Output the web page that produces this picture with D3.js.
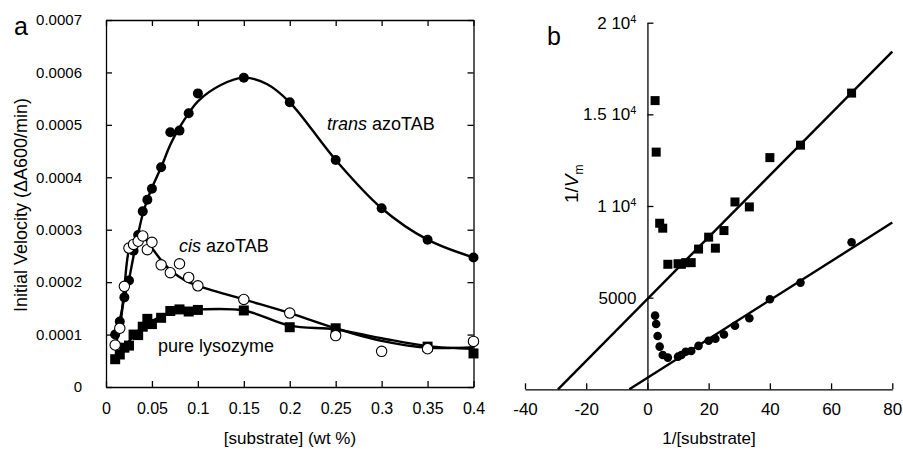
<!DOCTYPE html>
<html><head><meta charset="utf-8">
<script src="https://cdn.jsdelivr.net/npm/d3@7"></script>
<style>
html,body{margin:0;padding:0;background:#fff;}
svg{display:block;font-family:"Liberation Sans",Arial,Helvetica,sans-serif;}
.axis path,.axis line{stroke:#000;stroke-width:1.3;}
.axis text{fill:#000;font-family:"Liberation Sans",Arial,sans-serif;}
</style></head>
<body>
<svg id="chart" width="903" height="452"></svg>
<script>
// ---------- Panel a data: initial velocity vs [substrate] (wt %) ----------
const substrate = [0.01,0.015,0.02,0.025,0.03,0.035,0.04,0.045,0.05,0.06,0.07,0.08,0.09,0.1,0.15,0.2,0.25,0.3,0.35,0.4];
const transVelocity = [1.0,1.25,1.71,2.03,2.6,2.9,3.35,3.57,3.78,4.19,4.86,4.89,5.22,5.6,5.9,5.43,4.33,3.41,2.81,2.47].map(v=>v*1e-4);
const cisVelocity = [0.8,1.12,1.92,2.65,2.72,2.78,2.88,2.62,2.76,2.33,2.18,2.35,2.09,1.93,1.67,1.41,0.98,0.68,0.73,0.87].map(v=>v*1e-4);
const lysoSubstrate = [0.01,0.015,0.02,0.025,0.03,0.035,0.04,0.045,0.05,0.06,0.07,0.08,0.09,0.1,0.15,0.2,0.25,0.35,0.4];
const lysoVelocity = [0.53,0.62,0.75,0.79,1.0,0.99,1.15,1.3,1.2,1.32,1.45,1.48,1.44,1.47,1.46,1.14,1.12,0.77,0.64].map(v=>v*1e-4);

// smoothed guide curves drawn through each series
const transCurveX = [0.01,0.015,0.02,0.025,0.03,0.035,0.04,0.045,0.05,0.06,0.07,0.08,0.09,0.1,0.125,0.15,0.175,0.2,0.25,0.3,0.35,0.4];
const transCurveV = [1.0,1.28,1.7,2.05,2.5,2.92,3.3,3.57,3.8,4.19,4.62,4.95,5.22,5.45,5.76,5.9,5.78,5.43,4.33,3.41,2.81,2.47].map(v=>v*1e-4);
const cisCurveX = [0.01,0.015,0.02,0.025,0.03,0.035,0.04,0.05,0.06,0.07,0.08,0.09,0.1,0.15,0.2,0.25,0.3,0.35,0.4];
const cisCurveV = [0.8,1.12,1.9,2.6,2.75,2.8,2.86,2.65,2.42,2.23,2.1,2.0,1.93,1.67,1.41,1.12,0.88,0.75,0.76].map(v=>v*1e-4);
const lysoCurveX = [0.01,0.015,0.02,0.03,0.04,0.05,0.06,0.07,0.08,0.1,0.15,0.2,0.25,0.3,0.35,0.4];
const lysoCurveV = [0.53,0.62,0.75,0.98,1.15,1.26,1.35,1.43,1.46,1.48,1.46,1.17,1.1,0.93,0.78,0.73].map(v=>v*1e-4);

const xTicksA = [0,0.05,0.1,0.15,0.2,0.25,0.3,0.35,0.4];
const yTicksA = [0,0.0001,0.0002,0.0003,0.0004,0.0005,0.0006,0.0007];

// ---------- Panel b data: double reciprocal (1/V vs 1/[substrate]) ----------
const invSubLyso = [2.5,2.86,4,5,6.67,10,11.1,12.5,14.3,16.7,20,22.2,25,28.6,33.3,40,50,66.7];
const invVLyso = [15750,12940,9060,8790,6820,6850,6820,6910,6910,7650,8300,7700,8660,10220,9950,12640,13320,16160];
const invSubTrans = [2.5,2.86,3.33,4,5,6.67,10,11.1,12.5,14.3,16.7,20,22.2,25,28.6,33.3,40,50,66.7];
const invVTrans = [4020,3560,2910,2330,1870,1730,1780,1870,2050,2090,2370,2650,2760,2990,3470,3875,4910,5820,8020];
// linear fits (slope, intercept)
const fitLyso = {slope:168.7, intercept:4929};
const fitTrans = {slope:105.9, intercept:625};

const xTicksB = [-40,-20,0,20,40,60,80];
const yTicksB = [5000,10000,15000,20000];
const yTickLabelsB = [["5000",null],["1 10","4"],["1.5 10","4"],["2 10","4"]];

const svg = d3.select("#chart");

// ================= Panel a =================
const xA = d3.scaleLinear().domain([0,0.4]).range([106,473.5]);
const yA = d3.scaleLinear().domain([0,0.0007]).range([387,20]);

const gA = svg.append("g");
gA.append("g").attr("class","axis").attr("transform",`translate(0,${yA(0)})`)
  .call(d3.axisBottom(xA).tickValues(xTicksA).tickSizeInner(-6).tickSizeOuter(0).tickPadding(16).tickFormat(d=>String(d)))
  .selectAll("text").style("font-size","16px");
gA.append("g").attr("class","axis").attr("transform",`translate(0,${yA(0.0007)})`)
  .call(d3.axisTop(xA).tickValues(xTicksA).tickSizeInner(-6).tickSizeOuter(0).tickFormat(""));
gA.append("g").attr("class","axis").attr("transform",`translate(${xA(0)},0)`)
  .call(d3.axisLeft(yA).tickValues(yTicksA).tickSizeInner(-6).tickSizeOuter(0).tickPadding(24).tickFormat(d=>String(d)))
  .selectAll("text").style("font-size","15px");
gA.append("g").attr("class","axis").attr("transform",`translate(${xA(0.4)},0)`)
  .call(d3.axisRight(yA).tickValues(yTicksA).tickSizeInner(-6).tickSizeOuter(0).tickFormat(""));

const lineA = (xs,vs)=> d3.line().x((d,i)=>xA(xs[i])).y((d,i)=>yA(vs[i])).curve(d3.curveCatmullRom.alpha(0.5))(xs);
[[transCurveX,transCurveV],[cisCurveX,cisCurveV],[lysoCurveX,lysoCurveV]].forEach(([xs,vs])=>{
  gA.append("path").attr("d",lineA(xs,vs)).attr("fill","none").attr("stroke","#000").attr("stroke-width",2.4).attr("stroke-linejoin","round");
});

gA.append("g").selectAll("rect").data(lysoSubstrate).join("rect")
  .attr("x",(d)=>xA(d)-5).attr("y",(d,i)=>yA(lysoVelocity[i])-5).attr("width",10).attr("height",10).attr("fill","#000");
gA.append("g").selectAll("circle").data(substrate).join("circle")
  .attr("cx",d=>xA(d)).attr("cy",(d,i)=>yA(transVelocity[i])).attr("r",5).attr("fill","#000");
gA.append("g").selectAll("circle").data(substrate).join("circle")
  .attr("cx",d=>xA(d)).attr("cy",(d,i)=>yA(cisVelocity[i])).attr("r",5.2).attr("fill","#fff").attr("stroke","#000").attr("stroke-width",1.1);

// annotations
const t1 = gA.append("text").attr("x",327).attr("y",130).style("font-size","18px");
t1.append("tspan").style("font-style","italic").text("trans");
t1.append("tspan").text(" azoTAB");
const t2 = gA.append("text").attr("x",179).attr("y",252).style("font-size","18px");
t2.append("tspan").style("font-style","italic").text("cis");
t2.append("tspan").text(" azoTAB");
gA.append("text").attr("x",158).attr("y",352).style("font-size","18px").text("pure lysozyme");

gA.append("text").attr("x",14).attr("y",35).style("font-size","25px").text("a");
gA.append("text").attr("transform","translate(27,205) rotate(-90)").attr("text-anchor","middle").style("font-size","18px").text("Initial Velocity (\u0394A600/min)");
gA.append("text").attr("x",290).attr("y",444).attr("text-anchor","middle").style("font-size","17px").text("[substrate] (wt %)");

// ================= Panel b =================
const xB = d3.scaleLinear().domain([-40,80]).range([525,892.3]);
const yB = d3.scaleLinear().domain([0,20000]).range([389.3,22.7]);
const gB = svg.append("g");

gB.append("g").attr("class","axis").attr("transform",`translate(0,${yB(0)})`)
  .call(d3.axisBottom(xB).tickValues(xTicksB).tickSizeInner(-6).tickSizeOuter(0).tickPadding(13.5).tickFormat(d=>String(d)))
  .selectAll("text").style("font-size","17px");
const yAxB = gB.append("g").attr("class","axis").attr("transform",`translate(${xB(0)},0)`)
  .call(d3.axisLeft(yB).tickValues(yTicksB).tickSizeInner(-6).tickSizeOuter(0).tickPadding(11).tickFormat(""));
yAxB.selectAll(".tick text").each(function(d){
  const i = yTicksB.indexOf(d);
  const [main,sup] = yTickLabelsB[i];
  const t = d3.select(this).style("font-size","17px");
  t.append("tspan").text(main);
  if(sup){ t.append("tspan").attr("dy","-0.55em").style("font-size","11px").text(sup); }
});

// fit lines
[fitLyso,fitTrans].forEach(f=>{
  const x0 = -f.intercept/f.slope, x1 = 80;
  gB.append("line").attr("x1",xB(x0)).attr("y1",yB(0)).attr("x2",xB(x1)).attr("y2",yB(f.intercept+f.slope*x1))
    .attr("stroke","#000").attr("stroke-width",2.4);
});

gB.append("g").selectAll("rect").data(invSubLyso).join("rect")
  .attr("x",d=>xB(d)-4.5).attr("y",(d,i)=>yB(invVLyso[i])-4.5).attr("width",9).attr("height",9).attr("fill","#000");
gB.append("g").selectAll("circle").data(invSubTrans).join("circle")
  .attr("cx",d=>xB(d)).attr("cy",(d,i)=>yB(invVTrans[i])).attr("r",4.3).attr("fill","#000");

gB.append("text").attr("x",547).attr("y",45).style("font-size","25px").text("b");
const yt = gB.append("text").attr("transform","translate(578,203) rotate(-90)").style("font-size","19px");
yt.append("tspan").text("1/");
yt.append("tspan").style("font-style","italic").text("V");
yt.append("tspan").attr("dy","5").style("font-size","12px").text("m");
gB.append("text").attr("x",709).attr("y",444).attr("text-anchor","middle").style("font-size","17px").text("1/[substrate]");
</script>
</body></html>
